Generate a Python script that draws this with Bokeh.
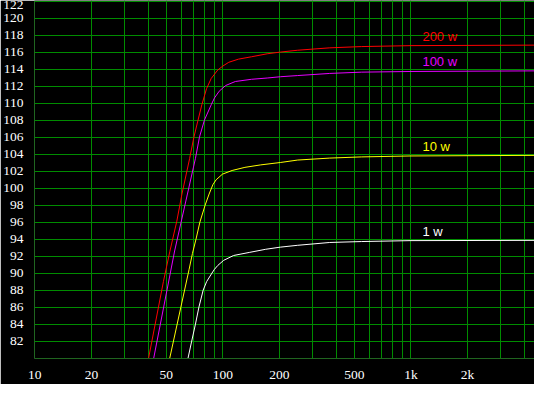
from bokeh.plotting import figure
from bokeh.models import Range1d, FixedTicker, ColumnDataSource
from bokeh.embed import file_html
from bokeh.resources import INLINE
from bokeh.core.properties import value

# ---- data (frequency in Hz, level in dB) ----
f_200w = [40.3, 48.3, 52.2, 56.9, 60.6, 66.6, 70.0, 73.8, 77.3, 81.9, 86.7, 94.0,
          100, 107.5, 121, 142, 172, 202, 250, 370, 547, 1000, 4600]
db_200w = [80.0, 89.0, 92.5, 96.1, 99.3, 103.5, 105.9, 108.0, 109.8, 111.7, 112.9, 113.9,
           114.36, 114.8, 115.17, 115.45, 115.8, 116.0, 116.22, 116.5, 116.65, 116.76, 116.82]

f_100w = [42.9, 53.2, 55.4, 71.5, 75.1, 79.8, 86.7, 90.2, 95.6, 103.5, 116.5, 142,
          172, 202, 250, 370, 547, 1000, 4600]
db_100w = [80.0, 90.6, 92.6, 103.5, 106.0, 108.0, 109.8, 110.6, 111.4, 112.07, 112.54, 112.8,
           112.95, 113.1, 113.24, 113.49, 113.64, 113.72, 113.79]

f_10w = [52.2, 66.1, 68.9, 72.0, 75.5, 80.5, 84.5, 88.5, 92.1, 99.5, 112, 131,
         159, 202, 250, 370, 547, 1000, 4600]
db_10w = [80.0, 90.4, 92.3, 94.0, 96.0, 98.0, 99.3, 100.4, 100.98, 101.64, 102.07, 102.44,
          102.73, 103.01, 103.3, 103.53, 103.67, 103.78, 103.85]

f_1w = [65.3, 68.3, 71.5, 74.6, 78.6, 82.0, 87.5, 90.2, 94.0, 101, 114, 139,
        169, 202, 250, 370, 547, 1000, 4600]
db_1w = [80.0, 82.0, 84.0, 86.0, 88.0, 89.0, 90.0, 90.44, 90.9, 91.5, 92.07, 92.44,
         92.8, 93.05, 93.27, 93.6, 93.71, 93.82, 93.85]

series_names = ["200 w", "100 w", "10 w", "1 w"]
series_colors = ["#ff0000", "#e600ff", "#ffff00", "#ffffff"]

x_tick_values = [10, 20, 50, 100, 200, 500, 1000, 2000]
x_tick_labels = ["10", "20", "50", "100", "200", "500", "1k", "2k"]
y_tick_values = list(range(82, 123, 2))

# grid lines: every 1..9 step of each decade, every 2 dB
x_grid_values = [m * 10 ** e for e in (1, 2, 3) for m in range(1, 10) if m * 10 ** e <= 4600]
y_grid_values = list(range(80, 123, 2))

GRID = "#008c00"

p = figure(width=534, height=384, x_axis_type="log",
           x_range=Range1d(9.97, 4535), y_range=Range1d(79.95, 122.07),
           output_backend="svg", toolbar_location=None,
           min_border_left=29, min_border_right=0, min_border_top=0, min_border_bottom=15,
           background_fill_color="black", border_fill_color="black")
p.outline_line_color = None

# axes
p.xaxis.ticker = FixedTicker(ticks=x_tick_values, minor_ticks=[])
p.xaxis.major_label_overrides = {v: l for v, l in zip(x_tick_values, x_tick_labels)}
p.yaxis.ticker = FixedTicker(ticks=y_tick_values, minor_ticks=[])
for ax in (p.xaxis, p.yaxis):
    ax.axis_line_color = None
    ax.major_tick_line_color = None
    ax.minor_tick_line_color = None
    ax.major_label_text_color = "white"
    ax.major_label_text_font = "Liberation Sans Narrow"
    ax.major_label_text_font_size = "13.5px"
p.xaxis.major_label_standoff = 2
p.yaxis.major_label_standoff = 5

# grids
p.xgrid.ticker = FixedTicker(ticks=x_grid_values)
p.ygrid.ticker = FixedTicker(ticks=y_grid_values)
for g in (p.xgrid, p.ygrid):
    g.grid_line_color = GRID
    g.grid_line_width = 1
    g.grid_line_alpha = 1.0

# curves
all_f = [f_200w, f_100w, f_10w, f_1w]
all_db = [db_200w, db_100w, db_10w, db_1w]
for fx, dy, c in zip(all_f, all_db, series_colors):
    p.line(fx, dy, line_color=c, line_width=1)

# series labels above the plateau
label_src = ColumnDataSource(dict(
    x=[1150] * len(series_names),
    y=[d[-1] for d in all_db],
    text=series_names,
    color=series_colors,
))
p.text(x="x", y="y", text="text", text_color="color", source=label_src,
       y_offset=-9, text_align="left", text_baseline="middle",
       text_font=value("Liberation Sans"), text_font_size="13px")

open("out.html", "w").write(file_html(p, INLINE))
